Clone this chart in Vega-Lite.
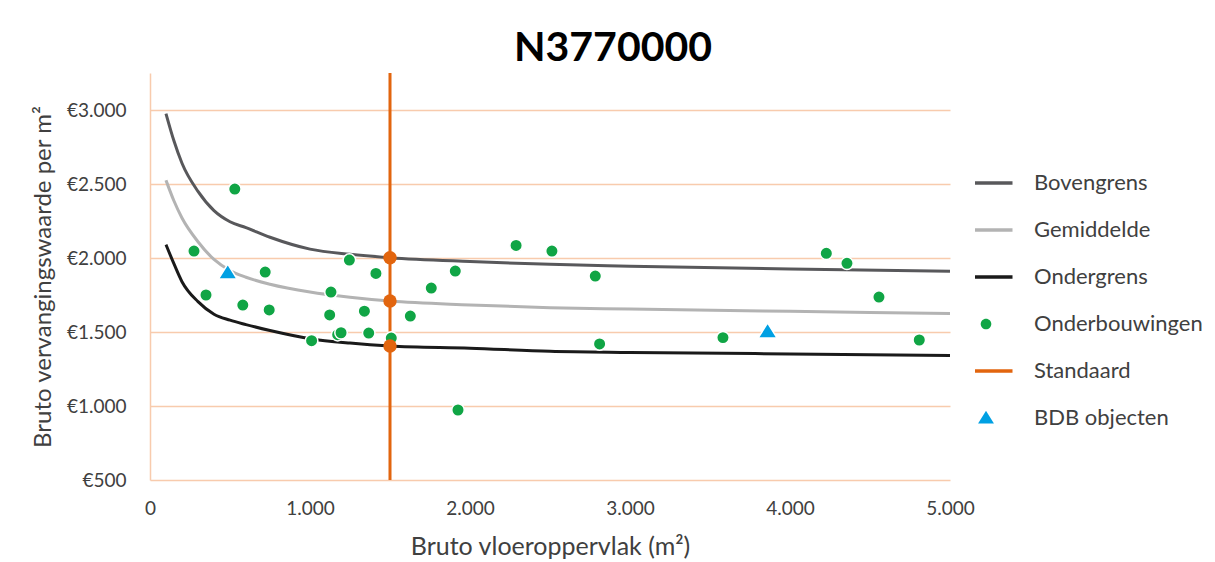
{
  "$schema": "https://vega.github.io/schema/vega-lite/v6.json",
  "width": 800,
  "height": 407,
  "autosize": {"type": "none"},
  "padding": {"left": 150, "top": 73, "right": 265, "bottom": 82},
  "background": "white",
  "title": {
    "text": "N3770000",
    "font": "Lato",
    "fontSize": 41,
    "fontWeight": "bold",
    "color": "#000000",
    "anchor": "middle",
    "frame": "group",
    "dx": 63,
    "offset": 2
  },
  "config": {
    "view": {"stroke": null},
    "font": "Lato",
    "axis": {
      "labelFont": "Lato",
      "labelColor": "#404040",
      "labelFontSize": 19,
      "labelFlush": false,
      "titleFont": "Lato",
      "titleColor": "#404040",
      "titleFontWeight": "normal",
      "ticks": false,
      "gridColor": "#F8CBAD",
      "gridWidth": 1.5,
      "gridOpacity": 1
    },
    "axisX": {"domain": false, "grid": false, "labelPadding": 19, "titlePadding": 16, "titleFontSize": 25},
    "axisY": {"domain": true, "domainColor": "#F8CBAD", "domainWidth": 1.5, "grid": true, "labelPadding": 24, "titlePadding": 11, "titleFontSize": 24}
  },
  "datasets": {
    "curves": [
      {"x": 100, "y": 2975, "series": "Bovengrens"},
      {"x": 150, "y": 2790, "series": "Bovengrens"},
      {"x": 200, "y": 2640, "series": "Bovengrens"},
      {"x": 300, "y": 2450, "series": "Bovengrens"},
      {"x": 400, "y": 2320, "series": "Bovengrens"},
      {"x": 500, "y": 2245, "series": "Bovengrens"},
      {"x": 600, "y": 2205, "series": "Bovengrens"},
      {"x": 750, "y": 2140, "series": "Bovengrens"},
      {"x": 1000, "y": 2060, "series": "Bovengrens"},
      {"x": 1250, "y": 2025, "series": "Bovengrens"},
      {"x": 1500, "y": 2002, "series": "Bovengrens"},
      {"x": 2000, "y": 1976, "series": "Bovengrens"},
      {"x": 2500, "y": 1957, "series": "Bovengrens"},
      {"x": 3000, "y": 1945, "series": "Bovengrens"},
      {"x": 4000, "y": 1926, "series": "Bovengrens"},
      {"x": 5000, "y": 1910, "series": "Bovengrens"},
      {"x": 100, "y": 2525, "series": "Gemiddelde"},
      {"x": 150, "y": 2385, "series": "Gemiddelde"},
      {"x": 200, "y": 2270, "series": "Gemiddelde"},
      {"x": 300, "y": 2110, "series": "Gemiddelde"},
      {"x": 400, "y": 1990, "series": "Gemiddelde"},
      {"x": 500, "y": 1915, "series": "Gemiddelde"},
      {"x": 600, "y": 1870, "series": "Gemiddelde"},
      {"x": 750, "y": 1823, "series": "Gemiddelde"},
      {"x": 1000, "y": 1770, "series": "Gemiddelde"},
      {"x": 1250, "y": 1735, "series": "Gemiddelde"},
      {"x": 1500, "y": 1709, "series": "Gemiddelde"},
      {"x": 2000, "y": 1683, "series": "Gemiddelde"},
      {"x": 2500, "y": 1664, "series": "Gemiddelde"},
      {"x": 3000, "y": 1655, "series": "Gemiddelde"},
      {"x": 4000, "y": 1640, "series": "Gemiddelde"},
      {"x": 5000, "y": 1625, "series": "Gemiddelde"},
      {"x": 100, "y": 2090, "series": "Ondergrens"},
      {"x": 150, "y": 1960, "series": "Ondergrens"},
      {"x": 200, "y": 1840, "series": "Ondergrens"},
      {"x": 300, "y": 1705, "series": "Ondergrens"},
      {"x": 400, "y": 1620, "series": "Ondergrens"},
      {"x": 500, "y": 1580, "series": "Ondergrens"},
      {"x": 600, "y": 1550, "series": "Ondergrens"},
      {"x": 750, "y": 1510, "series": "Ondergrens"},
      {"x": 1000, "y": 1455, "series": "Ondergrens"},
      {"x": 1250, "y": 1425, "series": "Ondergrens"},
      {"x": 1500, "y": 1405, "series": "Ondergrens"},
      {"x": 2000, "y": 1390, "series": "Ondergrens"},
      {"x": 2500, "y": 1370, "series": "Ondergrens"},
      {"x": 3000, "y": 1362, "series": "Ondergrens"},
      {"x": 4000, "y": 1352, "series": "Ondergrens"},
      {"x": 5000, "y": 1342, "series": "Ondergrens"}
    ],
    "standaard": [
      {"x": 1500, "series": "Standaard"}
    ],
    "standaardPunten": [
      {"x": 1500, "y": 2002},
      {"x": 1500, "y": 1709},
      {"x": 1500, "y": 1405}
    ],
    "objecten": [
      {"x": 275, "y": 2047, "series": "Onderbouwingen"},
      {"x": 530, "y": 2466, "series": "Onderbouwingen"},
      {"x": 350, "y": 1750, "series": "Onderbouwingen"},
      {"x": 580, "y": 1682, "series": "Onderbouwingen"},
      {"x": 720, "y": 1905, "series": "Onderbouwingen"},
      {"x": 745, "y": 1649, "series": "Onderbouwingen"},
      {"x": 1010, "y": 1441, "series": "Onderbouwingen"},
      {"x": 1131, "y": 1770, "series": "Onderbouwingen"},
      {"x": 1123, "y": 1615, "series": "Onderbouwingen"},
      {"x": 1173, "y": 1482, "series": "Onderbouwingen"},
      {"x": 1194, "y": 1495, "series": "Onderbouwingen"},
      {"x": 1246, "y": 1986, "series": "Onderbouwingen"},
      {"x": 1340, "y": 1641, "series": "Onderbouwingen"},
      {"x": 1367, "y": 1493, "series": "Onderbouwingen"},
      {"x": 1412, "y": 1896, "series": "Onderbouwingen"},
      {"x": 1508, "y": 1459, "series": "Onderbouwingen"},
      {"x": 1627, "y": 1608, "series": "Onderbouwingen"},
      {"x": 1758, "y": 1797, "series": "Onderbouwingen"},
      {"x": 1908, "y": 1912, "series": "Onderbouwingen"},
      {"x": 1925, "y": 973, "series": "Onderbouwingen"},
      {"x": 2288, "y": 2085, "series": "Onderbouwingen"},
      {"x": 2512, "y": 2047, "series": "Onderbouwingen"},
      {"x": 2783, "y": 1878, "series": "Onderbouwingen"},
      {"x": 2810, "y": 1419, "series": "Onderbouwingen"},
      {"x": 3581, "y": 1462, "series": "Onderbouwingen"},
      {"x": 4227, "y": 2032, "series": "Onderbouwingen"},
      {"x": 4356, "y": 1964, "series": "Onderbouwingen"},
      {"x": 4556, "y": 1736, "series": "Onderbouwingen"},
      {"x": 4808, "y": 1446, "series": "Onderbouwingen"},
      {"x": 486, "y": 1902, "series": "BDB objecten"},
      {"x": 3860, "y": 1504, "series": "BDB objecten"}
    ]
  },
  "layer": [
    {
      "data": {"name": "curves"},
      "mark": {"type": "line", "strokeWidth": 3, "interpolate": "monotone"},
      "encoding": {
        "x": {"field": "x", "type": "quantitative", "scale": {"domain": [0, 5000], "nice": false, "zero": false},
              "axis": {"title": "Bruto vloeroppervlak (m²)", "values": [0, 1000, 2000, 3000, 4000, 5000], "labelExpr": "replace(format(datum.value, ','), ',', '.')"}},
        "y": {"field": "y", "type": "quantitative", "scale": {"domain": [500, 3250], "nice": false, "zero": false},
              "axis": {"title": "Bruto vervangingswaarde per m²", "values": [500, 1000, 1500, 2000, 2500, 3000], "labelExpr": "'€' + replace(format(datum.value, ','), ',', '.')"}},
        "color": {
          "field": "series", "type": "nominal",
          "scale": {
            "domain": ["Bovengrens", "Gemiddelde", "Ondergrens", "Onderbouwingen", "Standaard", "BDB objecten"],
            "range": ["#58585B", "#B3B3B3", "#1A1A1A", "#10A545", "#E2650E", "#00A0E3"]
          },
          "legend": {
            "title": null, "orient": "none", "legendX": 825, "legendY": 100, "direction": "vertical",
            "padding": 0, "offset": 0, "clipHeight": 20, "rowPadding": 25,
            "symbolSize": 2809, "symbolStrokeWidth": 3.5,
            "labelFont": "Lato", "labelFontSize": 22, "labelColor": "#404040", "labelOffset": 37, "labelLimit": 300,
            "encode": {
              "symbols": {
                "update": {
                  "fill": {"scale": "color", "field": "value"},
                  "stroke": {"scale": "color", "field": "value"},
                  "strokeWidth": {"signal": "indexof(['Onderbouwingen', 'BDB objecten'], datum.value) >= 0 ? 0 : 3.5"},
                  "size": {"value": 2809},
                  "opacity": {"value": 1},
                  "fillOpacity": {"value": 1},
                  "strokeOpacity": {"value": 1}
                }
              }
            }
          }
        },
        "detail": {"field": "series"}
      }
    },
    {
      "data": {"name": "standaard"},
      "mark": {"type": "rule", "strokeWidth": 3},
      "encoding": {
        "x": {"field": "x", "type": "quantitative"},
        "color": {"field": "series", "type": "nominal"}
      }
    },
    {
      "data": {"name": "objecten"},
      "mark": {"type": "point", "filled": true, "opacity": 1, "stroke": "white", "strokeWidth": 1.5, "size": 3900},
      "encoding": {
        "x": {"field": "x", "type": "quantitative"},
        "y": {"field": "y", "type": "quantitative"},
        "color": {"field": "series", "type": "nominal"},
        "shape": {
          "field": "series", "type": "nominal",
          "scale": {
            "domain": ["Bovengrens", "Gemiddelde", "Ondergrens", "Onderbouwingen", "Standaard", "BDB objecten"],
            "range": [
              "M-1,0L1,0",
              "M-1,0L1,0",
              "M-1,0L1,0",
              "M-0.2,0A0.2,0.2 0 1,0 0.2,0A0.2,0.2 0 1,0 -0.2,0Z",
              "M-1,0L1,0",
              "M0,-0.27L0.3,0.21L-0.3,0.21Z"
            ]
          },
          "legend": {
            "title": null, "orient": "none", "legendX": 825, "legendY": 100, "direction": "vertical",
            "padding": 0, "offset": 0, "clipHeight": 20, "rowPadding": 25,
            "symbolSize": 2809, "symbolStrokeWidth": 3.5,
            "labelFont": "Lato", "labelFontSize": 22, "labelColor": "#404040", "labelOffset": 37, "labelLimit": 300
          }
        }
      }
    },
    {
      "data": {"name": "standaardPunten"},
      "mark": {"type": "circle", "size": 180, "opacity": 1, "color": "#E2650E"},
      "encoding": {
        "x": {"field": "x", "type": "quantitative"},
        "y": {"field": "y", "type": "quantitative"}
      }
    }
  ]
}
